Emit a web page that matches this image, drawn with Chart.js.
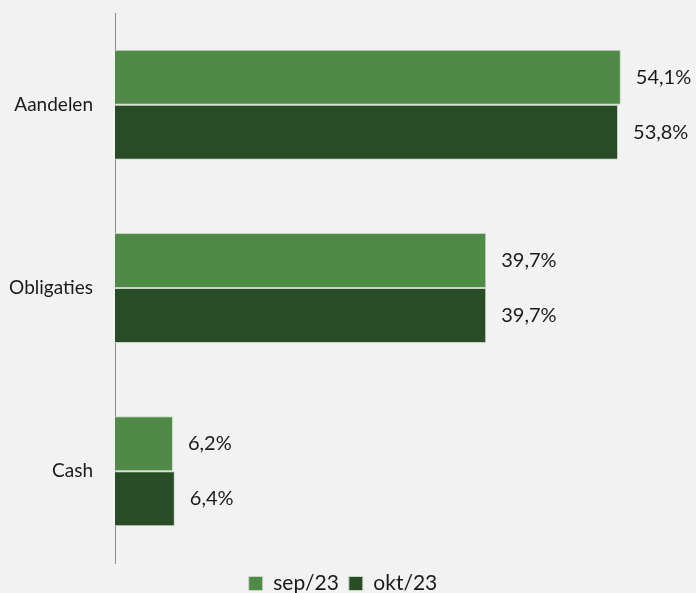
<!DOCTYPE html>
<html>
<head>
<meta charset="utf-8">
<script src="https://cdn.jsdelivr.net/npm/chart.js@4"></script>
<style>
  html, body { margin: 0; padding: 0; background: #f2f2f2; }
  #wrap { width: 696px; height: 593px; }
</style>
</head>
<body>
<div id="wrap"><canvas id="myChart" width="696" height="593"></canvas></div>
<script>
// categories and series
const categories = ["Aandelen", "Obligaties", "Cash"];
const sep23 = [54.1, 39.7, 6.2];
const okt23 = [53.8, 39.7, 6.4];
const seriesNames = ["sep/23", "okt/23"];

const FONT = "Lato, 'Open Sans', sans-serif";

// value labels right of each bar, "54,1%" style
const barLabels = {
  id: "barLabels",
  afterDatasetsDraw(chart) {
    const ctx = chart.ctx;
    ctx.save();
    ctx.font = "20px " + FONT;
    ctx.fillStyle = "#1a1a1a";
    ctx.textAlign = "left";
    ctx.textBaseline = "middle";
    chart.data.datasets.forEach((ds, i) => {
      chart.getDatasetMeta(i).data.forEach((bar, j) => {
        const txt = ds.data[j].toFixed(1).replace(".", ",") + "%";
        ctx.fillText(txt, bar.x + 15, bar.y);
      });
    });
    ctx.restore();
  }
};

new Chart(document.getElementById("myChart"), {
  type: "bar",
  data: {
    labels: categories,
    datasets: [
      {
        label: seriesNames[0],
        data: sep23,
        backgroundColor: "#4f8a47",
        borderColor: "#c9d6c6",
        borderWidth: 1
      },
      {
        label: seriesNames[1],
        data: okt23,
        backgroundColor: "#284c26",
        borderColor: "#c9d6c6",
        borderWidth: 1
      }
    ]
  },
  options: {
    indexAxis: "y",
    responsive: false,
    animation: false,
    layout: { padding: { top: 13, right: 20, left: 10, bottom: -11 } },
    datasets: { bar: { categoryPercentage: 0.6, barPercentage: 1.0 } },
    plugins: {
      legend: {
        position: "bottom",
        labels: {
          boxWidth: 14,
          boxHeight: 14,
          padding: 10,
          color: "#1a1a1a",
          font: { family: FONT, size: 21 }
        }
      },
      tooltip: { enabled: false }
    },
    scales: {
      x: {
        display: false,
        min: 0,
        max: 60
      },
      y: {
        grid: { display: false, drawTicks: false },
        border: { display: true, color: "#8c8c8c", width: 1 },
        ticks: {
          padding: 22,
          color: "#1a1a1a",
          font: { family: FONT, size: 19 }
        },
        afterFit(scale) {
          scale.width = 105;
          scale.paddingTop = 0;
          scale.paddingBottom = 0;
        }
      }
    }
  },
  plugins: [barLabels]
});
</script>
</body>
</html>
